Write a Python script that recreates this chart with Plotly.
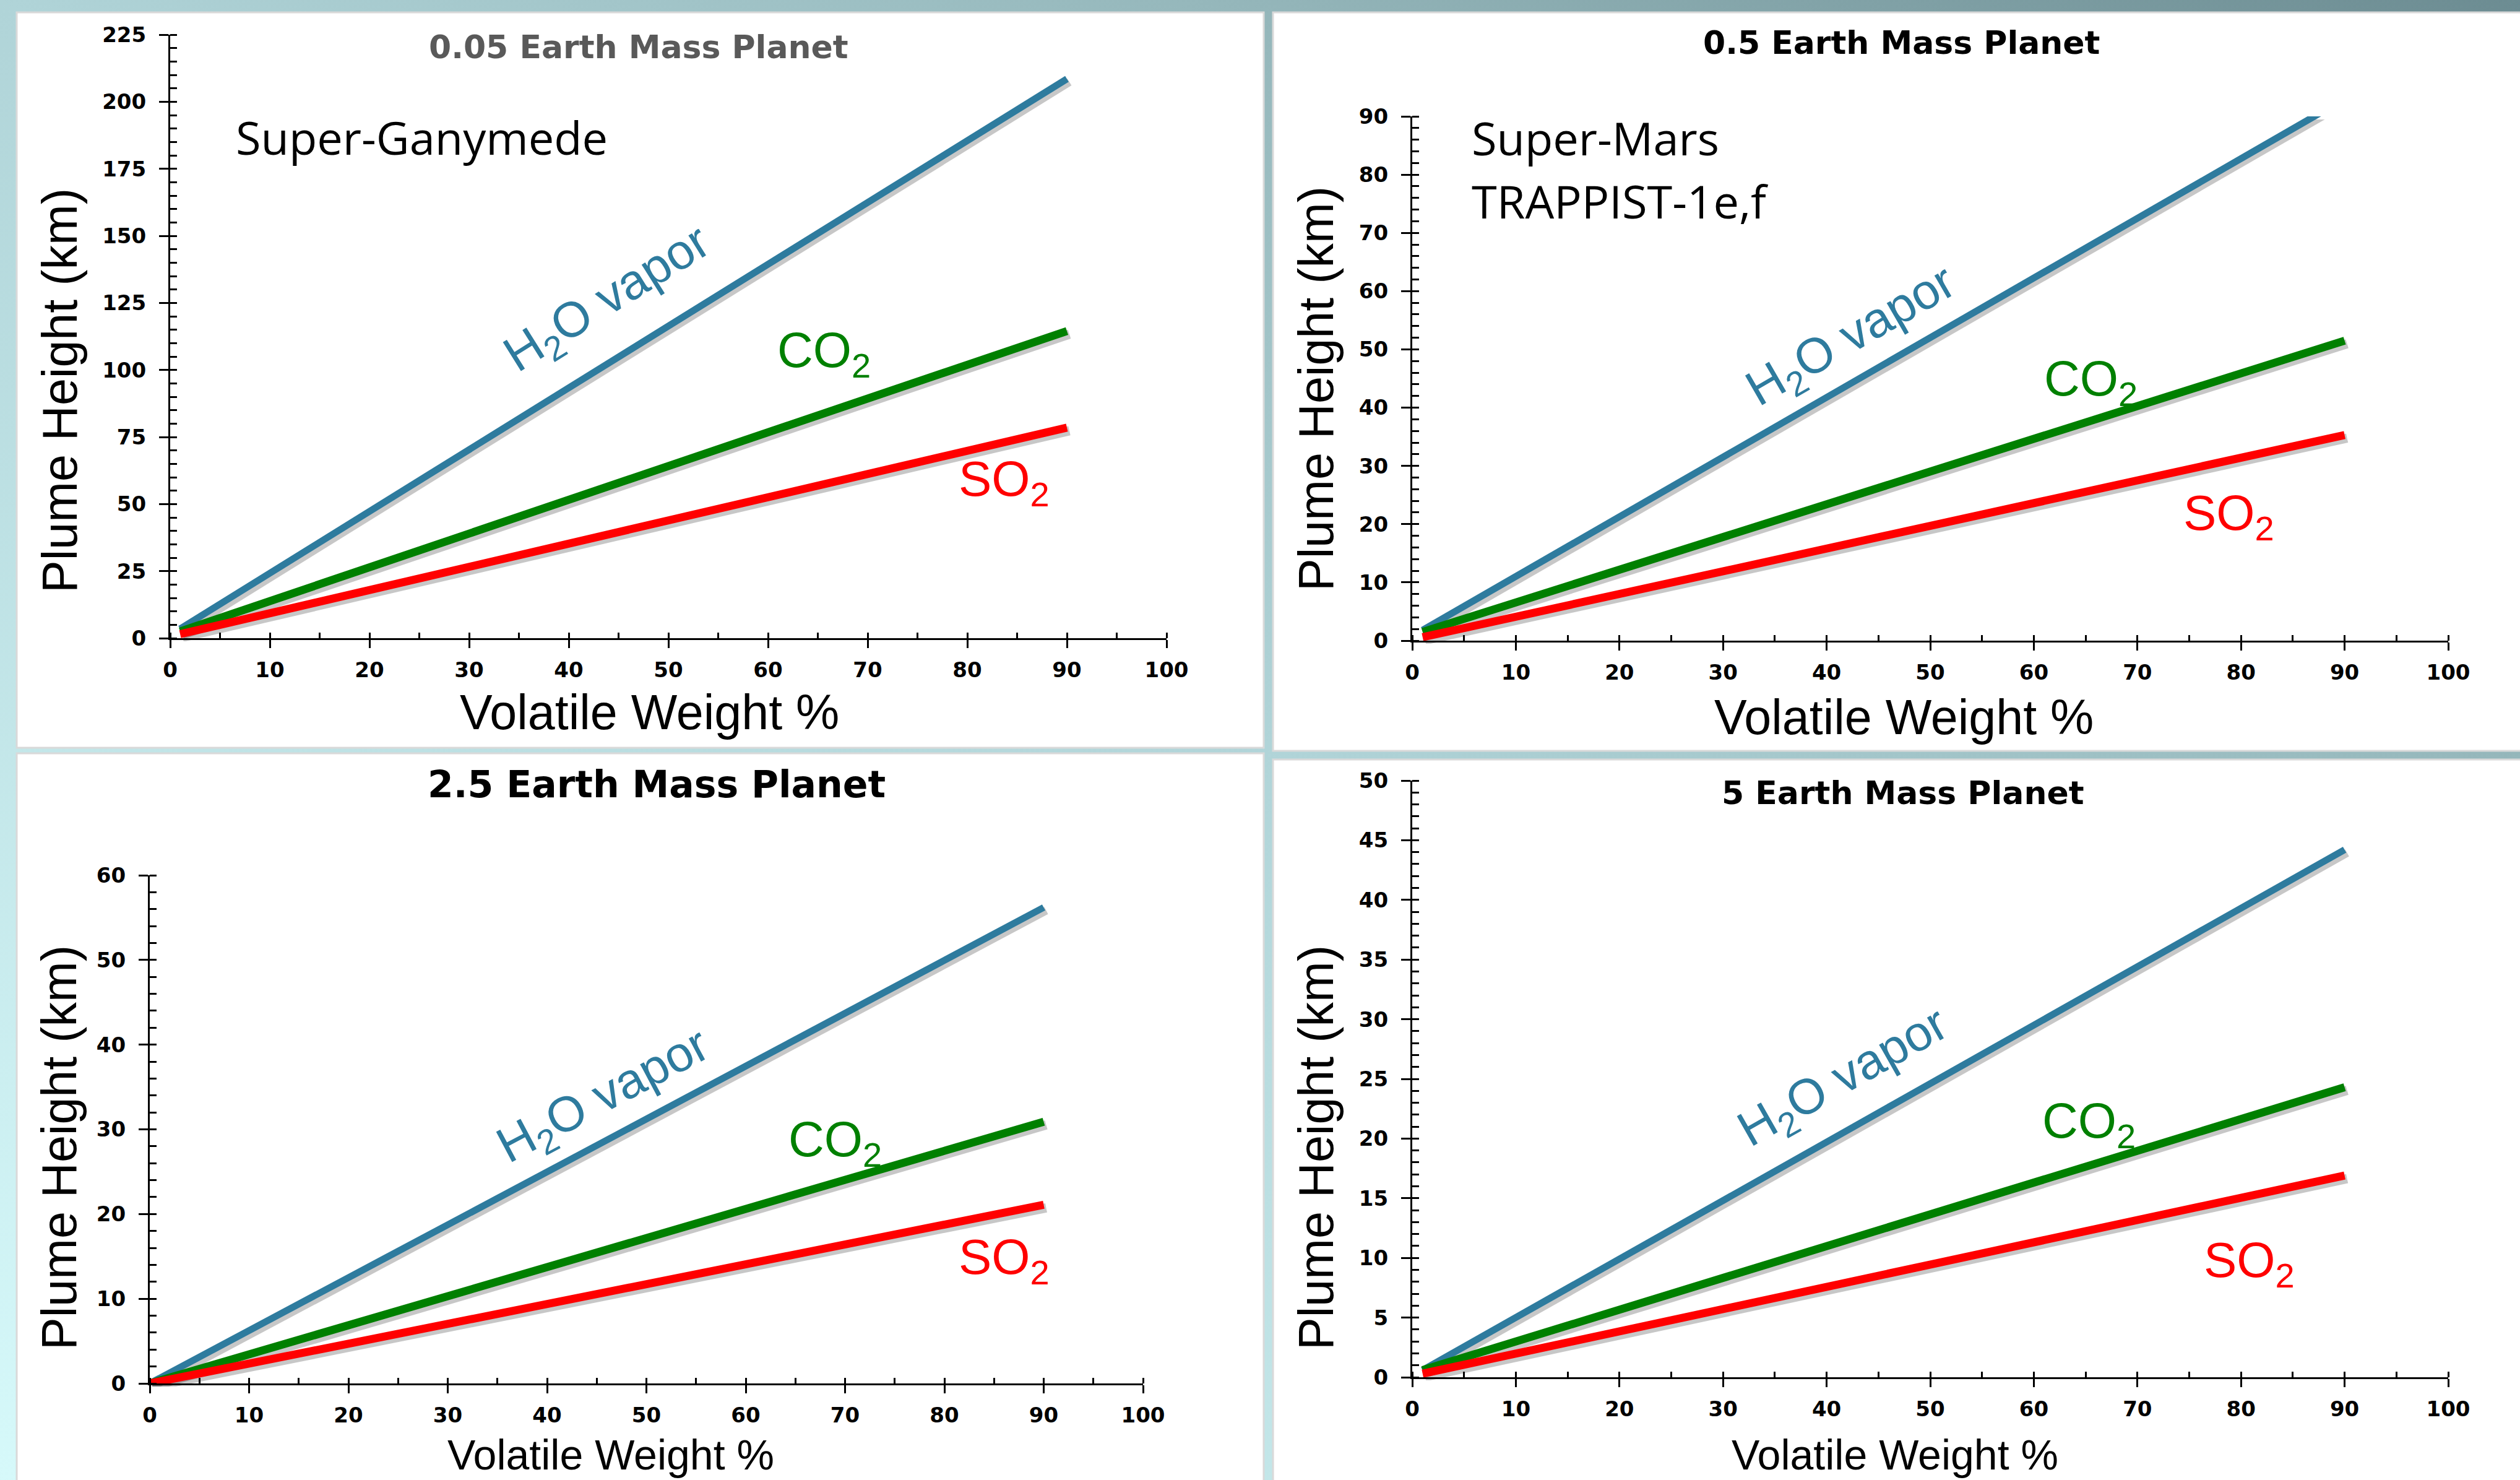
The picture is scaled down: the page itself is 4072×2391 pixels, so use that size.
import base64
import plotly.graph_objects as go

W, H = 4072, 2391

# ---------------- data ----------------
panel_titles = ["0.05 Earth Mass Planet", "0.5 Earth Mass Planet",
                "2.5 Earth Mass Planet", "5 Earth Mass Planet"]
series_names = ["H<sub>2</sub>O vapor", "CO<sub>2</sub>", "SO<sub>2</sub>"]
x_label = "Volatile Weight %"
y_label = "Plume Height (km)"

# volatile weight % (start, end) for each panel
wt_005 = [1, 90]
wt_05 = [1, 90]
wt_25 = [0, 90]
wt_5 = [1, 90]

# plume heights (km)
h2o_005 = [3.5, 208.5]
co2_005 = [2.5, 114.5]
so2_005 = [1.5, 78.5]

h2o_05 = [1.8, 93.0]
co2_05 = [1.5, 51.5]
so2_05 = [0.6, 35.3]

h2o_25 = [0.0, 56.2]
co2_25 = [0.0, 30.9]
so2_25 = [0.0, 21.1]

h2o_5 = [0.6, 44.2]
co2_5 = [0.6, 24.3]
so2_5 = [0.3, 16.9]

y_max = [225, 90, 60, 50]
y_major = [25, 10, 10, 5]
y_minor = [5, 2, 2, 1]

# ---------------- layout helpers (pixel -> paper) ----------------
def PX(px):
    return px / W

def PY(py):
    return 1 - py / H

panels = [
    dict(xs=wt_005, ys=[h2o_005, co2_005, so2_005], dx=(275, 1885), dy=(56, 1031),
         title_pos=(1032, 76), title_size=52, title_color="#595959",
         ytitle_pos=(96, 631), xtitle_pos=(1049, 1150), xtitle_size=79,
         labels=[(44, 126, -32), (65.6, 106, 0), (83.7, 58, 0)]),
    dict(xs=wt_05, ys=[h2o_05, co2_05, so2_05], dx=(2282, 3956), dy=(188, 1035),
         title_pos=(3072, 69), title_size=52, title_color="#000000",
         ytitle_pos=(2126, 628), xtitle_pos=(3076, 1158), xtitle_size=79,
         labels=[(42.5, 52, -30), (65.5, 44.4, 0), (78.8, 21.3, 0)]),
    dict(xs=wt_25, ys=[h2o_25, co2_25, so2_25], dx=(242, 1847), dy=(1414, 2235),
         title_pos=(1061, 1267), title_size=60, title_color="#000000",
         ytitle_pos=(95, 1854), xtitle_pos=(987, 2350), xtitle_size=68,
         labels=[(45.8, 33.7, -28), (69, 28.4, 0), (86, 14.5, 0)]),
    dict(xs=wt_5, ys=[h2o_5, co2_5, so2_5], dx=(2282, 3956), dy=(1261, 2225),
         title_pos=(3075, 1281), title_size=52, title_color="#000000",
         ytitle_pos=(2126, 1854), xtitle_pos=(3062, 2350), xtitle_size=68,
         labels=[(41.7, 25, -29.5), (65.3, 21.2, 0), (80.8, 9.5, 0)]),
]

colors = ["#2e7b9e", "#008000", "#ff0000"]
widths = [11, 13, 13]

# ---------------- background gradient ----------------
svg = (f'<svg xmlns="http://www.w3.org/2000/svg" width="{W}" height="{H}" '
       f'viewBox="0 0 {W} {H}" preserveAspectRatio="none">'
       '<defs><linearGradient id="g" x1="0" y1="1" x2="1" y2="0">'
       '<stop offset="0" stop-color="#d6f9fa"/>'
       '<stop offset="0.5" stop-color="#b0d4d8"/>'
       '<stop offset="0.74" stop-color="#95b7bb"/>'
       '<stop offset="1" stop-color="#6c8c92"/>'
       '</linearGradient></defs>'
       f'<rect x="0" y="0" width="{W}" height="{H}" fill="url(#g)"/></svg>')
bg_src = "data:image/svg+xml;base64," + base64.b64encode(svg.encode()).decode()

fig = go.Figure()

layout = dict(
    width=W, height=H, autosize=False,
    margin=dict(l=0, r=0, t=0, b=0, pad=0, autoexpand=False),
    paper_bgcolor="#b0d4d8", plot_bgcolor="rgba(0,0,0,0)",
    showlegend=False,
    images=[dict(source=bg_src, xref="paper", yref="paper", x=0, y=1,
                 sizex=1, sizey=1, sizing="stretch", layer="below")],
    shapes=[], annotations=[],
)

# white panel cards
cards = [(27, 20, 2042, 1208), (2057, 20, 4080, 1213),
         (27, 1217, 2042, 2400), (2057, 1227, 4080, 2400)]
for (x0, y0, x1, y1) in cards:
    layout["shapes"].append(dict(type="rect", xref="paper", yref="paper",
                                 x0=PX(x0), x1=PX(x1), y0=PY(y1), y1=PY(y0),
                                 fillcolor="white", line=dict(color="#d9d9d9", width=3),
                                 layer="below"))

tick_font = dict(family="DejaVu Sans", size=34, color="black", weight="bold")
SH_DX, SH_DY = 4, 5  # shadow offset in px

for i, p in enumerate(panels):
    s = i + 1        # shadow subplot index
    r = i + 5        # real subplot index
    (x0, x1), (ytop, ybot) = p["dx"], p["dy"]
    # shadow axes (hidden, shifted a few pixels)
    layout[f"xaxis{s}"] = dict(domain=[PX(x0 + SH_DX), PX(x1 + SH_DX)], range=[0, 100],
                               anchor=f"y{s}", visible=False, automargin=False)
    layout[f"yaxis{s}"] = dict(domain=[PY(ybot + SH_DY), PY(ytop + SH_DY)],
                               range=[0, y_max[i]], anchor=f"x{s}", visible=False,
                               automargin=False)
    # real axes
    layout[f"xaxis{r}"] = dict(
        domain=[PX(x0), PX(x1)], range=[0, 100], anchor=f"y{r}", automargin=False,
        showline=True, linecolor="black", linewidth=3, mirror=False,
        ticks="outside", ticklen=13, tickwidth=3, tickcolor="black",
        tick0=0, dtick=10, tickfont=tick_font, ticklabelstandoff=6,
        showgrid=False, zeroline=False,
        minor=dict(ticks="inside", ticklen=9, tickwidth=3, tickcolor="black",
                   dtick=5, tick0=0, showgrid=False))
    layout[f"yaxis{r}"] = dict(
        domain=[PY(ybot), PY(ytop)], range=[0, y_max[i]], anchor=f"x{r}", automargin=False,
        showline=True, linecolor="black", linewidth=3,
        ticks="outside", ticklen=15, tickwidth=3, tickcolor="black",
        tick0=0, dtick=y_major[i], tickfont=tick_font, ticklabelstandoff=14,
        showgrid=False, zeroline=False,
        minor=dict(ticks="inside", ticklen=11, tickwidth=3, tickcolor="black",
                   dtick=y_minor[i], tick0=0, showgrid=False))

    for k in range(3):
        fig.add_trace(go.Scatter(x=p["xs"], y=p["ys"][k], mode="lines",
                                 xaxis=f"x{s}", yaxis=f"y{s}", hoverinfo="skip",
                                 line=dict(color="rgba(0,0,0,0.22)", width=widths[k] + 2)))
    for k in range(3):
        fig.add_trace(go.Scatter(x=p["xs"], y=p["ys"][k], mode="lines",
                                 xaxis=f"x{r}", yaxis=f"y{r}", name=series_names[k],
                                 line=dict(color=colors[k], width=widths[k])))

    # series labels
    for k, (lx, ly, ang) in enumerate(p["labels"]):
        layout["annotations"].append(dict(
            text=series_names[k], x=lx, y=ly, xref=f"x{r}", yref=f"y{r}",
            showarrow=False, textangle=ang, xanchor="center", yanchor="middle",
            font=dict(family="Liberation Sans, Arial", size=80, color=colors[k])))

    # panel title
    tx, ty = p["title_pos"]
    layout["annotations"].append(dict(
        text=panel_titles[i], x=PX(tx), y=PY(ty), xref="paper", yref="paper",
        showarrow=False, xanchor="center", yanchor="middle",
        font=dict(family="DejaVu Sans", size=p["title_size"], color=p["title_color"],
                  weight="bold")))
    # axis titles
    ax_, ay_ = p["xtitle_pos"]
    layout["annotations"].append(dict(
        text=x_label, x=PX(ax_), y=PY(ay_), xref="paper", yref="paper",
        showarrow=False, xanchor="center", yanchor="middle",
        font=dict(family="Liberation Sans, Arial", size=p["xtitle_size"], color="black")))
    bx_, by_ = p["ytitle_pos"]
    layout["annotations"].append(dict(
        text=y_label, x=PX(bx_), y=PY(by_), xref="paper", yref="paper",
        showarrow=False, xanchor="center", yanchor="middle", textangle=-90,
        font=dict(family="Liberation Sans, Arial", size=79, color="black")))

# planet-type notes
note_font = dict(family="Open Sans", size=74, color="black")
layout["annotations"] += [
    dict(text="Super-Ganymede", x=PX(379), y=PY(222), xref="paper", yref="paper",
         showarrow=False, xanchor="left", yanchor="middle", font=note_font),
    dict(text="Super-Mars", x=PX(2376), y=PY(223), xref="paper", yref="paper",
         showarrow=False, xanchor="left", yanchor="middle", font=note_font),
    dict(text="TRAPPIST-1e,f", x=PX(2376), y=PY(325), xref="paper", yref="paper",
         showarrow=False, xanchor="left", yanchor="middle", font=note_font),
]

fig.update_layout(**layout)
fig.write_html("out.html")
